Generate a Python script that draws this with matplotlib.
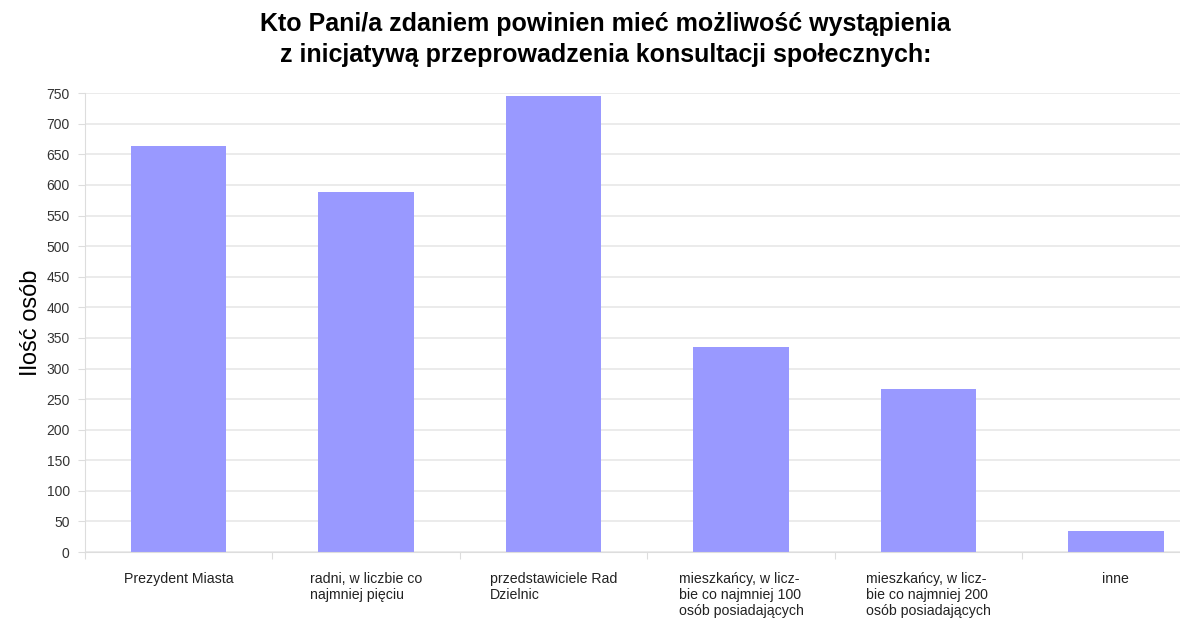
import matplotlib.pyplot as plt
import numpy as np

plt.rcParams['font.family'] = ['Liberation Sans', 'DejaVu Sans']

categories = ["Prezydent Miasta",
              "radni, w liczbie co\nnajmniej pięciu",
              "przedstawiciele Rad\nDzielnic",
              "mieszkańcy, w licz-\nbie co najmniej 100\nosób posiadających",
              "mieszkańcy, w licz-\nbie co najmniej 200\nosób posiadających",
              "inne"]
values = [663, 589, 745, 335, 266, 34]
yticks = np.arange(0, 751, 50)

fig = plt.figure(figsize=(11.8, 6.21), dpi=100)
ax = fig.add_axes([0.072, 0.111, 0.953, 0.739])

x = np.arange(len(categories))
ax.bar(x, values, width=0.51, color='#9999ff', zorder=2)

ax.set_xlim(-0.5, 5.5)
ax.set_ylim(0, 750)
ax.set_yticks(yticks)
ax.yaxis.grid(True, color='#e8e8e8', linewidth=1.2, zorder=0)
ax.set_axisbelow(True)

# category boundaries carry the ticks, labels sit in the middle
ax.set_xticks(np.arange(-0.5, 6, 1))
ax.set_xticklabels([])
ax.tick_params(axis='x', which='major', length=5, color='#dddddd')
ax.set_xticks(x, minor=True)
ax.set_xticklabels(categories, minor=True, fontsize=10.2, color='#222222',
                   multialignment='left', va='top', linespacing=1.2)
ax.tick_params(axis='x', which='minor', length=0, pad=14)
ax.tick_params(axis='y', length=5, color='#dddddd', labelsize=10,
               labelcolor='#333333', pad=6)

for s in ['top', 'right']:
    ax.spines[s].set_visible(False)
for s in ['left', 'bottom']:
    ax.spines[s].set_color('#dddddd')

ax.set_ylabel('Ilość osób', fontsize=17, labelpad=3)
fig.text(0.513, 0.98, "Kto Pani/a zdaniem powinien mieć możliwość wystąpienia\n"
         "z inicjatywą przeprowadzenia konsultacji społecznych:",
         ha='center', va='top', fontsize=18, fontweight='bold', linespacing=1.35)

fig.savefig('out.png', dpi=100)
